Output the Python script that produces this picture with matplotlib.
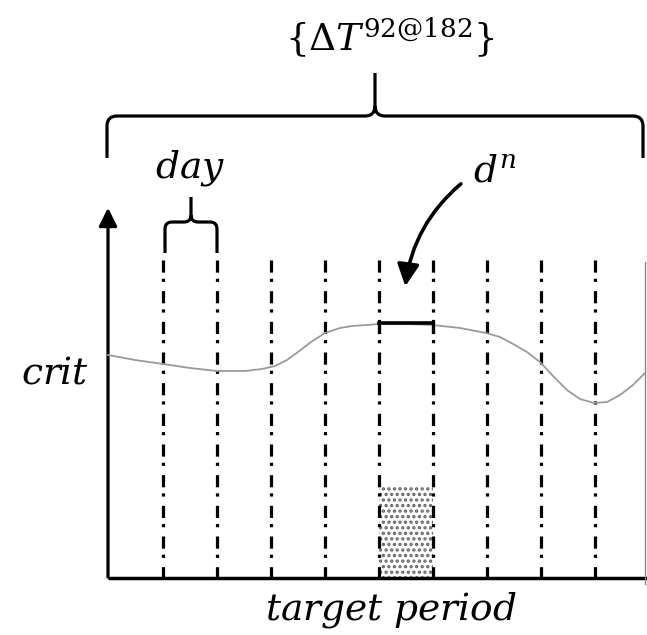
import numpy as np
import matplotlib
matplotlib.use("Agg")
import matplotlib.pyplot as plt
from matplotlib.path import Path
from matplotlib.patches import PathPatch, FancyArrowPatch, Rectangle

plt.rcParams['mathtext.fontset'] = 'dejavuserif'
plt.rcParams['hatch.linewidth'] = 1.6

# diagram geometry, in pixel-like units (y grows downward)
day_lines = [163, 217, 271, 325, 379, 433, 487, 541, 595]
line_top, line_bottom = 260, 578

# crit curve
curve_x = [108, 135, 163, 190, 217, 245, 262, 275, 287, 298, 311, 325, 340, 352, 366, 379,
           406, 433, 460, 486, 500, 513, 527, 540, 553, 567, 580, 594, 607, 620, 633, 645]
curve_y = [355, 360, 364, 368, 371, 371, 369, 366, 360, 352, 342, 333, 328, 326, 325, 324,
           324, 325, 328, 333, 337, 344, 352, 362, 376, 390, 399, 403, 402, 395, 385, 373]

# highlighted day d^n and its stippled bar
dn_span = (379, 433)
dn_level = 323
bar_top = 487

# braces: (x_left, x_right, y_line, y_ends, y_tip)
big_brace = (107, 643, 116, 158, 73)
day_brace = (165, 217, 222, 253, 197)

fig = plt.figure(figsize=(6.47, 6.35), dpi=100)
ax = fig.add_axes([0, 0, 1, 1])
ax.set_xlim(0, 647)
ax.set_ylim(635, 0)
ax.axis('off')


def brace(ax, x0, x1, y, yend, ytip, r, lw):
    xm = (x0 + x1) / 2
    verts = [(x0, yend), (x0, y + r), (x0, y), (x0 + r, y), (xm - r, y), (xm, y), (xm, y - r),
             (xm, ytip), (xm, y - r), (xm, y), (xm + r, y), (x1 - r, y), (x1, y), (x1, y + r),
             (x1, yend)]
    codes = [Path.MOVETO, Path.LINETO, Path.CURVE3, Path.CURVE3, Path.LINETO, Path.CURVE3,
             Path.CURVE3, Path.LINETO, Path.MOVETO, Path.CURVE3, Path.CURVE3, Path.LINETO,
             Path.CURVE3, Path.CURVE3, Path.LINETO]
    ax.add_patch(PathPatch(Path(verts, codes), fill=False, lw=lw, color='black',
                           capstyle='butt', joinstyle='round'))


# stippled bar
ax.add_patch(Rectangle((dn_span[0], bar_top), dn_span[1] - dn_span[0], line_bottom - bar_top,
                       facecolor='white', edgecolor='#666666', hatch='...', lw=0))

# dash-dot day separators
for x in day_lines:
    ax.plot([x, x], [line_top, line_bottom], color='black', lw=2.3,
            linestyle=(0, (3.8, 1.9, 1.0, 2.9)), solid_capstyle='butt')

# crit curve
ax.plot(curve_x, curve_y, color='#9a9a9a', lw=1.3)

# d^n bracket
ax.plot([dn_span[0], dn_span[1]], [dn_level, dn_level], color='black', lw=2.6)
for x in dn_span:
    ax.plot([x, x], [dn_level - 2, dn_level + 9], color='black', lw=2.3)

# axes
ax.plot([108, 647], [578, 578], color='black', lw=2.5, solid_capstyle='butt')
ax.plot([645, 645], [262, 584], color='#888888', lw=1.0)
ax.add_patch(FancyArrowPatch((108, 580), (108, 205), arrowstyle='-|>,head_length=0.5,head_width=0.25',
                             mutation_scale=22, lw=2.3, color='black'))

# braces
brace(ax, *big_brace, r=10, lw=2.3)
brace(ax, *day_brace, r=7, lw=2.3)

# curved arrow to d^n
ax.add_patch(FancyArrowPatch((463, 182), (405, 289), connectionstyle='arc3,rad=0.2',
                             arrowstyle='-|>,head_length=0.6,head_width=0.3',
                             mutation_scale=22, lw=2.6, color='black'))

# labels
fs = 27
ax.text(390, 38, r'$\left\{\Delta T^{92@182}\right\}$', fontsize=fs, ha='center', va='center')
ax.text(190, 168, r'$day$', fontsize=fs, ha='center', va='center')
ax.text(495, 172, r'$d^n$', fontsize=fs, ha='center', va='center')
ax.text(55, 373, r'$crit$', fontsize=fs, ha='center', va='center')
ax.text(391, 610, r'$target\ period$', fontsize=fs, ha='center', va='center')

fig.savefig('out.png', dpi=100)
